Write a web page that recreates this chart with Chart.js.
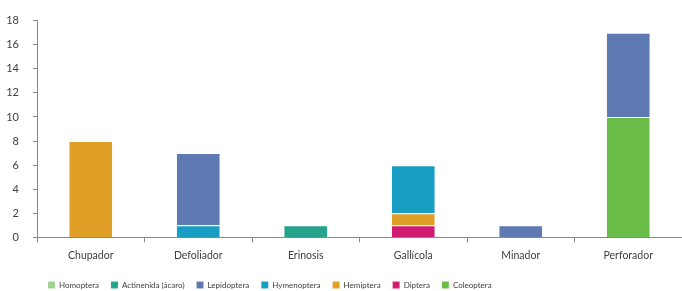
<!DOCTYPE html>
<html>
<head>
<meta charset="utf-8">
<script src="https://cdn.jsdelivr.net/npm/chart.js@4"></script>
<style>
html,body{margin:0;padding:0;background:#fff;}
#wrap{width:682px;height:291px;}
</style>
</head>
<body>
<div id="wrap"><canvas id="grafico"></canvas></div>
<script>
// Datos
const categorias = ["Chupador","Defoliador","Erinosis","Gallícola","Minador","Perforador"];
const coleoptera = [0,0,0,0,0,10];
const diptera = [0,0,0,1,0,0];
const hemiptera = [8,0,0,1,0,0];
const hymenoptera = [0,1,0,4,0,0];
const lepidoptera = [0,6,0,0,1,7];
const actinenida = [0,0,1,0,0,0];
const homoptera = [0,0,0,0,0,0];
const ticksY = [0,2,4,6,8,10,12,14,16,18];

// de abajo hacia arriba
let series = [
{label:"Coleoptera", data:coleoptera, color:"#6bbd4a"},
{label:"Diptera", data:diptera, color:"#d01c73"},
{label:"Hemiptera", data:hemiptera, color:"#e0a028"},
{label:"Hymenoptera", data:hymenoptera, color:"#189dc3"},
{label:"Lepidoptera", data:lepidoptera, color:"#5f7ab2"},
{label:"Actinenida (ácaro)", data:actinenida, color:"#27a38d"},
{label:"Homoptera", data:homoptera, color:"#9fd38f"}
];

let fuente = "Lato, sans-serif";

// mover la leyenda a la derecha
const moverLeyenda = {
id:"moverLeyenda",
afterLayout(chart){
chart.legend.left += 36;
chart.legend.right += 36;
}
};

new Chart(document.getElementById("grafico"),{
type:"bar",
data:{
labels:categorias,
datasets:series.map(s => ({
label:s.label,
data:s.data,
backgroundColor:s.color,
borderColor:"rgba(255,255,255,0.3)",
borderWidth:{top:1},
borderSkipped:false,
barPercentage:0.4,
categoryPercentage:1
}))
},
plugins:[moverLeyenda],
options:{
responsive:true,
maintainAspectRatio:false,
animation:false,
layout:{padding:{top:8,right:0,left:0,bottom:-8}},
plugins:{
tooltip:{enabled:false},
legend:{
position:"bottom",
align:"start",
reverse:true,
labels:{
boxWidth:7,boxHeight:7,padding:12,
color:"#404040",
font:{family:fuente,size:8}
}
}
},
scales:{
x:{
stacked:true,
grid:{offset:true,drawOnChartArea:false,drawTicks:true,tickLength:5,color:"#888"},
border:{color:"#888",width:1},
ticks:{color:"#404040",font:{family:fuente,size:10.5},padding:7}
},
y:{
stacked:true,
min:0,max:18,
afterBuildTicks:(axis)=>{axis.ticks = ticksY.map(v => ({value:v}));},
afterFit:(axis)=>{axis.width = 37;},
grid:{drawOnChartArea:false,drawTicks:true,tickLength:4,color:"#888"},
border:{color:"#888",width:1},
ticks:{color:"#404040",font:{family:fuente,size:11},padding:14}
}
}
}
});
</script>
</body>
</html>
